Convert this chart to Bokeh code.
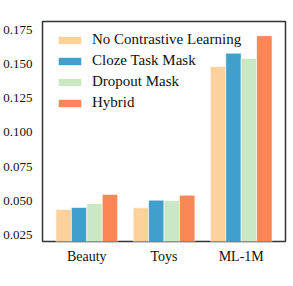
from bokeh.plotting import figure
from bokeh.models import FactorRange, Range1d, FixedTicker, ColumnDataSource, Legend, LegendItem, PrintfTickFormatter
from bokeh.transform import dodge
from bokeh.embed import file_html
from bokeh.resources import INLINE

datasets = ["Beauty", "Toys", "ML-1M"]
series = ["No Contrastive Learning", "Cloze Task Mask", "Dropout Mask", "Hybrid"]
no_cl = [0.0438, 0.0450, 0.1482]
cloze = [0.0452, 0.0506, 0.1579]
dropout = [0.0482, 0.0504, 0.1540]
hybrid = [0.0548, 0.0542, 0.1706]
colors = ["#fdd19b", "#41a0cb", "#cbe8c4", "#fc8656"]
yticks = [0.025, 0.050, 0.075, 0.100, 0.125, 0.150, 0.175]

FONT = "Liberation Serif"

src = ColumnDataSource(dict(cat=datasets, s0=no_cl, s1=cloze, s2=dropout, s3=hybrid))

p = figure(width=291, height=284, output_backend="svg", toolbar_location=None,
           x_range=FactorRange(factors=datasets, range_padding=0.074, range_padding_units="absolute"),
           y_range=Range1d(0.0204, 0.181),
           min_border_left=40, min_border_right=6, min_border_top=21, min_border_bottom=43)

keys = ["s0", "s1", "s2", "s3"]
offsets = [-0.3, -0.1, 0.1, 0.3]
renderers = []
for k, off, c in zip(keys, offsets, colors):
    r = p.vbar(x=dodge("cat", off, range=p.x_range), top=k, bottom=0, width=0.2, source=src,
               fill_color=c, line_color="white", line_width=0.6)
    renderers.append(r)

legend = Legend(items=[LegendItem(label=s, renderers=[r]) for s, r in zip(series, renderers)],
                location=(13, 130), margin=0, padding=0, spacing=4,
                glyph_width=29, glyph_height=10, label_height=11, label_standoff=8,
                label_text_font=FONT, label_text_font_size="15px", label_text_color="#111111",
                border_line_color=None, background_fill_alpha=0)
p.add_layout(legend)

p.xgrid.visible = False
p.ygrid.visible = False
p.outline_line_color = "#333333"
p.outline_line_width = 1.5

p.yaxis.ticker = FixedTicker(ticks=yticks)
p.yaxis.formatter = PrintfTickFormatter(format="%.3f")
for ax in (p.xaxis[0], p.yaxis[0]):
    ax.axis_line_color = None
    ax.major_tick_line_color = None
    ax.minor_tick_line_color = None
    ax.major_tick_out = 0
    ax.major_tick_in = 0
    ax.minor_tick_out = 0
    ax.major_label_text_font = FONT
    ax.major_label_text_font_size = "13px"
    ax.major_label_text_color = "#111111"
p.yaxis.major_label_standoff = 10
p.xaxis.major_label_standoff = 7
p.xaxis.major_label_text_font_size = "14px"

open("out.html", "w").write(file_html(p, INLINE))
